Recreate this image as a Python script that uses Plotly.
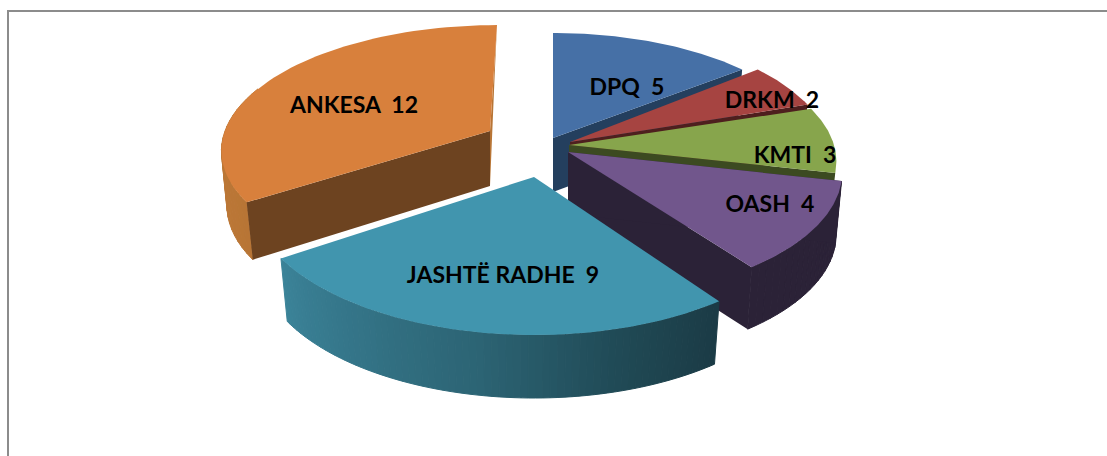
import math
import plotly.graph_objects as go

categories = ["DPQ", "DRKM", "KMTI", "OASH", "JASHTË RADHE", "ANKESA"]
values = [5, 2, 3, 4, 9, 12]

top_colors = ["#4670a6", "#a64441", "#87a54c", "#71568c", "#4195ae", "#d8803c"]
face_colors = ["#243f5e", "#4e1f1e", "#3c4a21", "#2b2237", "#1b3b45", "#6d4320"]
label_xy = [(627, 89.5), (772, 102.5), (795, 157), (770, 206), (503, 277), (354, 107)]

# per-slice geometry: top (cx, cy, Rx, Ry, skew), bottom (cx, cy, Rx, Ry, skew)
K = 0.133
geom = {
    "DPQ": ((553, 138, 262, 119, 0), (553, 192, 256, 119, 0)),
    "DRKM": ((570, 142, 260, 126, 0), (570, 197, 254, 126, 0)),
    "KMTI": ((569, 145, 265, 122, 0), (569, 200, 259, 122, 0)),
    "OASH": ((568, 152, 271, 127, -5), (568, 214, 265, 127, -5)),
    "JASHTË RADHE": ((534, 177, 281, 137, 0), (534, 240, 274, 137, 0)),
    "ANKESA": ((490, 131, 265, 120, 7), (490, 186, 260, 124, 4.6)),
}


def project(g, theta, r=1.0):
    cx, cy, rx, ry, sk = g
    a = math.radians(theta)
    t = -math.cos(a) * r
    s = 1 / (1 - K * t)
    return (cx + rx * r * math.sin(a) * s - sk * t * s / 0.883,
            cy + ry * t * s)


def arc(g, a0, a1, n=60):
    return [project(g, a0 + (a1 - a0) * i / n) for i in range(n + 1)]


def lerp_color(stops, x):
    for (x0, c0), (x1, c1) in zip(stops, stops[1:]):
        if x0 >= x >= x1:
            f = (x - x0) / (x1 - x0)
            rgb = [round(int(c0[i:i + 2], 16) * (1 - f) + int(c1[i:i + 2], 16) * f)
                   for i in (1, 3, 5)]
            return "#%02x%02x%02x" % tuple(rgb)
    return stops[-1][1]


fig = go.Figure()


def poly(pts, color, seam=False):
    fig.add_trace(go.Scatter(
        x=[p[0] for p in pts] + [pts[0][0]],
        y=[p[1] for p in pts] + [pts[0][1]],
        mode="lines", fill="toself", fillcolor=color,
        line=dict(color=color, width=1 if seam else 0),
        hoverinfo="skip", showlegend=False))


total = sum(values)
spans = {}
acc = 0
for c, v in zip(categories, values):
    spans[c] = (acc * 360 / total, (acc + v) * 360 / total)
    acc += v


def radial(c, angle, color):
    top, bot = geom[c]
    poly([project(top, angle, 0), project(top, angle),
          project(bot, angle), project(bot, angle, 0)], color)


def wall(c, a0, a1, stops, n=40):
    top, bot = geom[c]
    for i in range(n):
        b0 = a0 + (a1 - a0) * i / n
        b1 = a0 + (a1 - a0) * (i + 1) / n
        col = lerp_color(stops, (b0 + b1) / 2)
        poly([project(top, b0), project(top, b1),
              project(bot, b1), project(bot, b0)], col, seam=True)


def top_face(c, color):
    g = geom[c][0]
    a0, a1 = spans[c]
    poly([project(g, 0, 0)] + arc(g, a0, a1), color)


# ANKESA (back left)
a0, a1 = spans["ANKESA"]
radial("ANKESA", a1, "#b87535")
wall("ANKESA", a0 + 55, a0, [(a0 + 55, "#c47c3a"), (a0, "#b87535")], n=20)
radial("ANKESA", a0, face_colors[5])
top_face("ANKESA", top_colors[5])

# right-hand slices, back to front
for idx in (0, 1, 2):
    c = categories[idx]
    radial(c, spans[c][1], face_colors[idx])
    top_face(c, top_colors[idx])

a0, a1 = spans["OASH"]
wall("OASH", a1, a0, [(a1, "#2b2237"), (a0, "#2b2237")], n=20)
radial("OASH", a1, face_colors[3])
radial("OASH", a0, face_colors[3])
top_face("OASH", top_colors[3])

# JASHTË RADHE (front)
a0, a1 = spans["JASHTË RADHE"]
wall("JASHTË RADHE", a1, a0,
     [(a1, "#3b8399"), (190, "#2c6474"), (165, "#204a56"), (a0, "#1b3b45")], n=70)
top_face("JASHTË RADHE", top_colors[4])

# labels
fig.add_trace(go.Scatter(
    x=[p[0] for p in label_xy], y=[p[1] for p in label_xy],
    mode="text",
    text=[f"{c}\u00a0\u00a0{v}" for c, v in zip(categories, values)],
    textposition="middle center",
    textfont=dict(family="Lato", size=23, color="#000000", weight="bold"),
    hoverinfo="skip", showlegend=False))

fig.update_layout(
    width=1107, height=456,
    margin=dict(l=0, r=0, t=0, b=0),
    paper_bgcolor="#ffffff", plot_bgcolor="#ffffff",
    xaxis=dict(range=[0, 1107], visible=False, fixedrange=True),
    yaxis=dict(range=[456, 0], visible=False, fixedrange=True),
    shapes=[dict(type="path", path="M 8 456 L 8 11 L 1107 11",
                 line=dict(color="#8c8c8c", width=2), layer="below")],
)

fig.write_html("out.html", config={"displayModeBar": False},
               post_script="document.body.style.margin='0';document.body.style.overflow='hidden';")
